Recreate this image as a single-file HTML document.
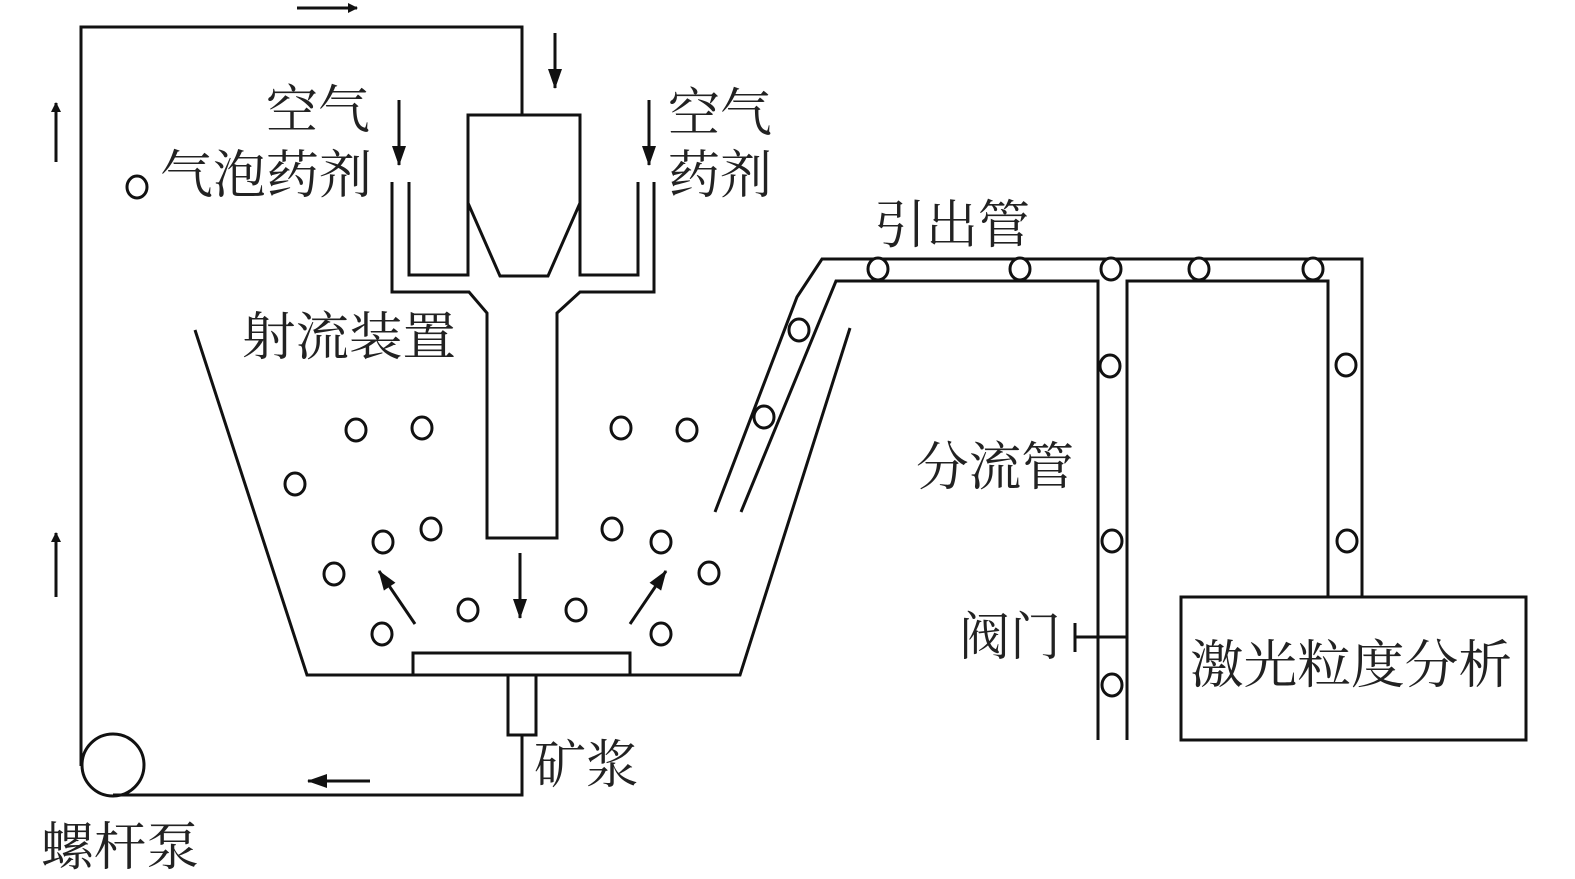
<!DOCTYPE html>
<html><head><meta charset="utf-8"><style>
html,body{margin:0;padding:0;background:#fff;}
svg{display:block}
text{font-family:"Liberation Serif","Noto Serif CJK SC",serif;font-size:52px;fill:#222}
</style></head><body>
<svg width="1575" height="879" viewBox="0 0 1575 879" xmlns="http://www.w3.org/2000/svg">
<defs><marker id="ah" markerWidth="10" markerHeight="10" refX="9" refY="5" orient="auto" markerUnits="userSpaceOnUse" viewBox="0 0 10 10"><path d="M0,0 L10,5 L0,10 z" fill="#111"/></marker>
<marker id="ab" markerWidth="20" markerHeight="14" refX="19" refY="7" orient="auto" markerUnits="userSpaceOnUse" viewBox="0 0 20 14"><path d="M0,0 L20,7 L0,14 z" fill="#111"/></marker></defs>
<g fill="none" stroke="#111" stroke-width="3">
<polyline points="522,115 522,27 81,27 81,766"/>
<polyline points="113,795 522,795 522,735"/>
<circle cx="113" cy="765" r="31"/>
<rect x="508" y="675" width="28" height="60"/>
<rect x="413" y="653" width="217" height="22"/>
<polyline points="195,330 307,675 740,675 850,328"/>
<polyline points="468,203 468,115 580,115 580,203"/>
<polyline points="468,203 500,276 548,276 580,203"/>
<polyline points="409,182 409,275 468,275 468,203"/>
<polyline points="638,182 638,275 580,275 580,203"/>
<polyline points="392,182 392,292 469,292 487,313 487,538 557,538 557,313 580,292 654,292 654,182"/>
<polyline points="715,512 797,297 822,259 1362,259 1362,597"/>
<polyline points="741,512 836,281 1098,281 1098,740"/>
<polyline points="1127,740 1127,281 1328,281 1328,597"/>
<rect x="1181" y="597" width="345" height="143"/>
<line x1="1075" y1="637" x2="1127" y2="637"/>
<line x1="1075" y1="623" x2="1075" y2="652"/>
</g>
<g stroke="#111" stroke-width="3" fill="none">
<line x1="297" y1="8" x2="357" y2="8" marker-end="url(#ah)"/>
<line x1="555" y1="33" x2="555" y2="88" marker-end="url(#ab)"/>
<line x1="56" y1="162" x2="56" y2="103" marker-end="url(#ah)"/>
<line x1="56" y1="597" x2="56" y2="533" marker-end="url(#ah)"/>
<line x1="370" y1="781" x2="308" y2="781" marker-end="url(#ab)"/>
<line x1="399" y1="100" x2="399" y2="165" marker-end="url(#ab)"/>
<line x1="649" y1="100" x2="649" y2="165" marker-end="url(#ab)"/>
<line x1="520" y1="553" x2="520" y2="618" marker-end="url(#ab)"/>
<line x1="415" y1="624" x2="379" y2="571" marker-end="url(#ab)"/>
<line x1="630" y1="624" x2="666" y2="571" marker-end="url(#ab)"/>
</g>
<g fill="#fff" stroke="#111" stroke-width="3">
<ellipse cx="137" cy="187" rx="10" ry="11"/>
<ellipse cx="356" cy="430" rx="10" ry="11"/>
<ellipse cx="422" cy="428" rx="10" ry="11"/>
<ellipse cx="621" cy="428" rx="10" ry="11"/>
<ellipse cx="687" cy="430" rx="10" ry="11"/>
<ellipse cx="295" cy="484" rx="10" ry="11"/>
<ellipse cx="431" cy="529" rx="10" ry="11"/>
<ellipse cx="383" cy="542" rx="10" ry="11"/>
<ellipse cx="612" cy="529" rx="10" ry="11"/>
<ellipse cx="661" cy="542" rx="10" ry="11"/>
<ellipse cx="334" cy="574" rx="10" ry="11"/>
<ellipse cx="709" cy="573" rx="10" ry="11"/>
<ellipse cx="468" cy="610" rx="10" ry="11"/>
<ellipse cx="576" cy="610" rx="10" ry="11"/>
<ellipse cx="382" cy="634" rx="10" ry="11"/>
<ellipse cx="661" cy="634" rx="10" ry="11"/>
<ellipse cx="799" cy="330" rx="10" ry="11"/>
<ellipse cx="764" cy="417" rx="10" ry="11"/>
<ellipse cx="878" cy="269" rx="10" ry="11"/>
<ellipse cx="1020" cy="269" rx="10" ry="11"/>
<ellipse cx="1111" cy="269" rx="10" ry="11"/>
<ellipse cx="1199" cy="269" rx="10" ry="11"/>
<ellipse cx="1313" cy="269" rx="10" ry="11"/>
<ellipse cx="1110" cy="366" rx="10" ry="11"/>
<ellipse cx="1346" cy="365" rx="10" ry="11"/>
<ellipse cx="1112" cy="541" rx="10" ry="11"/>
<ellipse cx="1347" cy="541" rx="10" ry="11"/>
<ellipse cx="1112" cy="685" rx="10" ry="11"/>
</g>
<text x="266" y="128" textLength="104" lengthAdjust="spacingAndGlyphs">空气</text>
<text x="160" y="193" textLength="212" lengthAdjust="spacingAndGlyphs">气泡药剂</text>
<text x="668" y="131" textLength="104" lengthAdjust="spacingAndGlyphs">空气</text>
<text x="668" y="193" textLength="104" lengthAdjust="spacingAndGlyphs">药剂</text>
<text x="874" y="243" textLength="156" lengthAdjust="spacingAndGlyphs">引出管</text>
<text x="242" y="355" textLength="214" lengthAdjust="spacingAndGlyphs">射流装置</text>
<text x="916" y="485" textLength="158" lengthAdjust="spacingAndGlyphs">分流管</text>
<text x="959" y="655" textLength="102" lengthAdjust="spacingAndGlyphs">阀门</text>
<text x="1190" y="683" textLength="322" lengthAdjust="spacingAndGlyphs">激光粒度分析</text>
<text x="534" y="783" textLength="104" lengthAdjust="spacingAndGlyphs">矿浆</text>
<text x="41" y="865" textLength="158" lengthAdjust="spacingAndGlyphs">螺杆泵</text>
</svg>
</body></html>
